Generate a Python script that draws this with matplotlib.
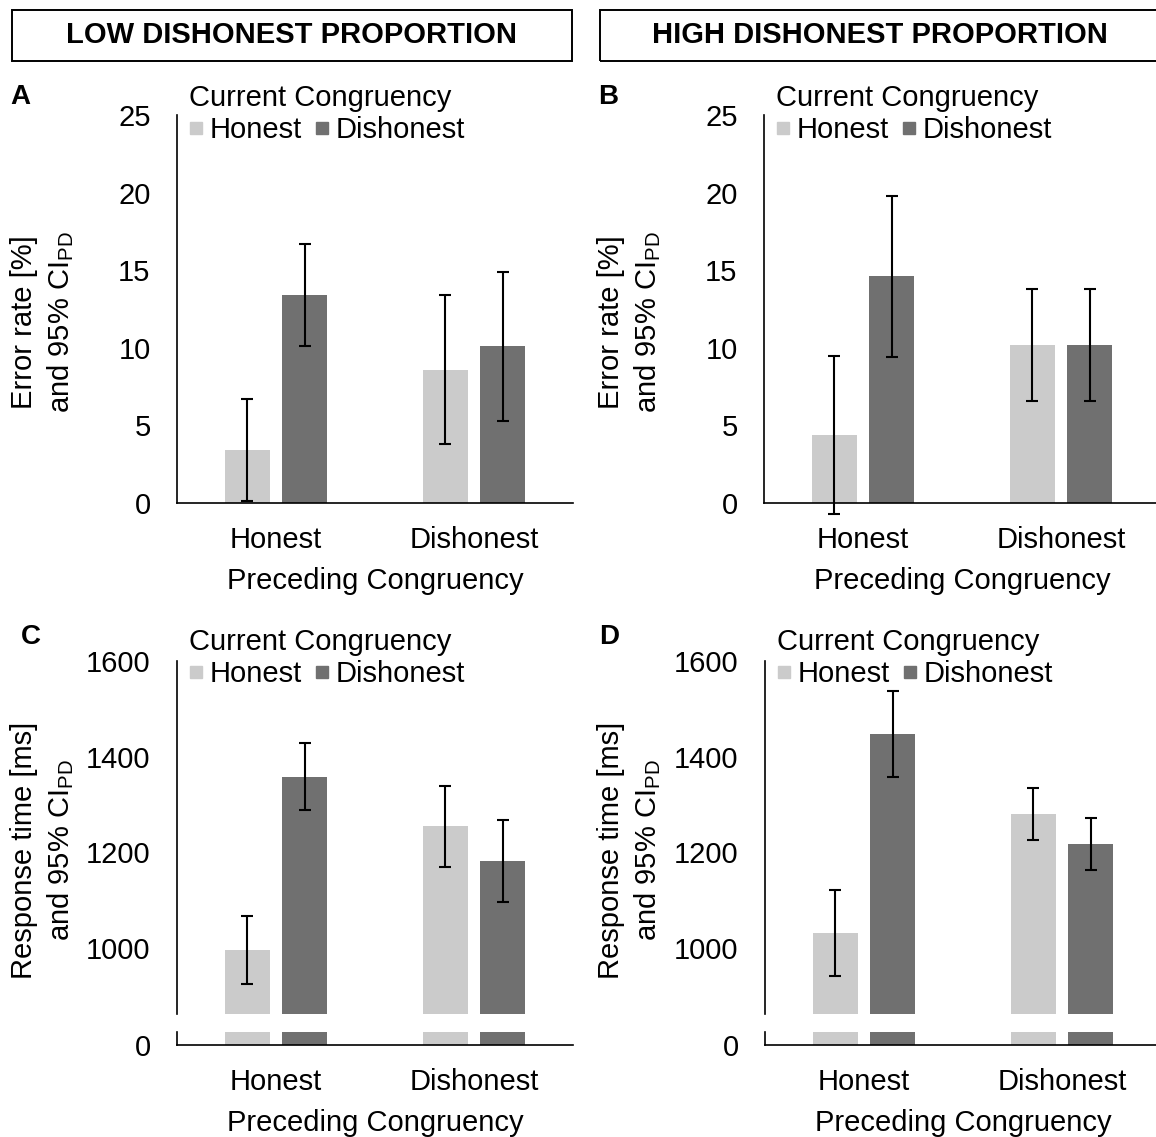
import matplotlib
matplotlib.use("Agg")
from matplotlib import pyplot as plt
from matplotlib.lines import Line2D
from matplotlib.patches import Rectangle
import numpy as np

# Output
FIG_W, FIG_H = 1156, 1137
DPI = 100
FIG_NAME = "out.png"

# Data: preceding congruency on the x axis, current congruency as series
CATEGORIES = ["Honest", "Dishonest"]
SERIES = ["Honest", "Dishonest"]

# Panel A - error rate [%], low dishonest proportion
A_HONEST = [3.4, 8.6]
A_DISHONEST = [13.4, 10.1]
A_HONEST_CI = [3.3, 4.8]
A_DISHONEST_CI = [3.3, 4.8]

# Panel B - error rate [%], high dishonest proportion
B_HONEST = [4.4, 10.2]
B_DISHONEST = [14.6, 10.2]
B_HONEST_CI = [5.1, 3.6]
B_DISHONEST_CI = [5.2, 3.6]

# Panel C - response time [ms], low dishonest proportion
C_HONEST = [996, 1254]
C_DISHONEST = [1358, 1182]
C_HONEST_CI = [71, 85]
C_DISHONEST_CI = [70, 85]

# Panel D - response time [ms], high dishonest proportion
D_HONEST = [1031, 1280]
D_DISHONEST = [1447, 1217]
D_HONEST_CI = [90, 54]
D_DISHONEST_CI = [90, 54]

ERROR_TICKS = [0, 5, 10, 15, 20, 25]
RT_TICKS = [1000, 1200, 1400, 1600]

# Style
FONT = "Liberation Sans"
FONT_SIZE = 21
LIGHT = "#cbcbcb"
DARK = "#707070"
BAR_WIDTH = 0.227
BAR_OFFSET = 0.144
ERR_LW = 1.5
CAPSIZE = 4.3
SPINE_LW = 1.2

plt.rcParams["font.family"] = FONT
plt.rcParams["font.size"] = FONT_SIZE
plt.rcParams["mathtext.fontset"] = "custom"
plt.rcParams["mathtext.rm"] = FONT


def px_rect(left, top, width, height):
    """Convert a pixel box (from top left) to figure fractions."""
    return [left / FIG_W, 1 - (top + height) / FIG_H, width / FIG_W, height / FIG_H]


def draw_bars(ax, honest, dishonest, honest_ci=None, dishonest_ci=None):
    x = np.arange(len(CATEGORIES))
    for offset, vals, ci, color in ((-BAR_OFFSET, honest, honest_ci, LIGHT),
                                    (BAR_OFFSET, dishonest, dishonest_ci, DARK)):
        ax.bar(x + offset, vals, BAR_WIDTH, color=color)
        if ci is None:
            continue
        eb = ax.errorbar(x + offset, vals, yerr=ci, fmt="none", ecolor="black",
                         elinewidth=ERR_LW, capsize=CAPSIZE, capthick=ERR_LW)
        for artist in list(eb.lines[1]) + list(eb.lines[2]):
            artist.set_clip_on(False)
    ax.set_xlim(-0.5, len(CATEGORIES) - 0.5)


def style_axis(ax, show_bottom=True):
    for side in ("top", "right"):
        ax.spines[side].set_visible(False)
    ax.spines["bottom"].set_visible(show_bottom)
    for side in ("left", "bottom"):
        ax.spines[side].set_linewidth(SPINE_LW)
    ax.tick_params(axis="y", length=0, pad=19, labelsize=FONT_SIZE)
    ax.tick_params(axis="x", length=0, pad=16.5, labelsize=FONT_SIZE)


def set_x_labels(ax):
    ax.set_xticks(np.arange(len(CATEGORIES)))
    ax.set_xticklabels(CATEGORIES)
    ax.set_xlabel("Preceding Congruency", labelpad=9.5)


def add_legend(ax, x_px, y_px):
    handles = [Line2D([], [], marker="s", linestyle="", color=c, markersize=8.6)
               for c in (LIGHT, DARK)]
    ax.legend(handles, SERIES, title="Current Congruency", loc="upper left",
              bbox_to_anchor=(x_px / FIG_W, 1 - y_px / FIG_H),
              bbox_transform=ax.figure.transFigure, ncol=2, frameon=False,
              handlelength=0.5, handletextpad=0.2, columnspacing=0.45,
              labelspacing=0.13, borderpad=0, borderaxespad=0, alignment="left",
              title_fontsize=FONT_SIZE, fontsize=FONT_SIZE)


def error_panel(fig, left, honest, dishonest, honest_ci, dishonest_ci):
    ax = fig.add_axes(px_rect(left, 115, 396, 388))
    draw_bars(ax, honest, dishonest, honest_ci, dishonest_ci)
    ax.set_ylim(0, 25)
    ax.set_yticks(ERROR_TICKS)
    style_axis(ax)
    set_x_labels(ax)
    add_legend(ax, left + 12, 84)
    return ax


def rt_panel(fig, left, honest, dishonest, honest_ci, dishonest_ci):
    # Broken y axis: big part from ~860 ms, small strip at zero
    top = fig.add_axes(px_rect(left, 661, 396, 353))
    draw_bars(top, honest, dishonest, honest_ci, dishonest_ci)
    top.set_ylim(862, 1600)
    top.set_yticks(RT_TICKS)
    top.set_xticks([])
    style_axis(top, show_bottom=False)
    add_legend(top, left + 12, 628)

    low = fig.add_axes(px_rect(left, 1032, 396, 13))
    draw_bars(low, honest, dishonest)
    low.set_ylim(0, 30)
    low.set_yticks([0])
    style_axis(low)
    set_x_labels(low)
    return top, low


def add_header(fig, left, text):
    fig.patches.append(Rectangle((left / FIG_W, 1 - 61 / FIG_H), 560 / FIG_W, 51 / FIG_H,
                                 transform=fig.transFigure, fill=False,
                                 edgecolor="black", linewidth=1.4))
    fig.text((left + 280) / FIG_W, 1 - 35 / FIG_H, text, ha="center", va="center",
             fontweight="bold", fontsize=FONT_SIZE)


def add_ylabel(fig, x_px, y_px, first_line):
    fig.text(x_px / FIG_W, 1 - y_px / FIG_H,
             first_line + "\nand 95% CI$_\\mathregular{PD}$",
             rotation=90, ha="center", va="center", multialignment="center",
             linespacing=1.3, fontsize=FONT_SIZE)


def do_plot():
    fig = plt.figure(figsize=(FIG_W / DPI, FIG_H / DPI), dpi=DPI)

    add_header(fig, 12, "LOW DISHONEST PROPORTION")
    add_header(fig, 600, "HIGH DISHONEST PROPORTION")

    error_panel(fig, 177, A_HONEST, A_DISHONEST, A_HONEST_CI, A_DISHONEST_CI)
    error_panel(fig, 764, B_HONEST, B_DISHONEST, B_HONEST_CI, B_DISHONEST_CI)
    rt_panel(fig, 177, C_HONEST, C_DISHONEST, C_HONEST_CI, C_DISHONEST_CI)
    rt_panel(fig, 765, D_HONEST, D_DISHONEST, D_HONEST_CI, D_DISHONEST_CI)

    # Panel letters
    for letter, x, y in (("A", 20, 97), ("B", 608, 97), ("C", 31, 637), ("D", 609, 637)):
        fig.text(x / FIG_W, 1 - y / FIG_H, letter, ha="center", va="center",
                 fontweight="bold", fontsize=20)

    add_ylabel(fig, 43, 322, "Error rate [%]")
    add_ylabel(fig, 630, 322, "Error rate [%]")
    add_ylabel(fig, 43, 850, "Response time [ms]")
    add_ylabel(fig, 630, 850, "Response time [ms]")

    fig.savefig(FIG_NAME, dpi=DPI)


if __name__ == "__main__":
    do_plot()
